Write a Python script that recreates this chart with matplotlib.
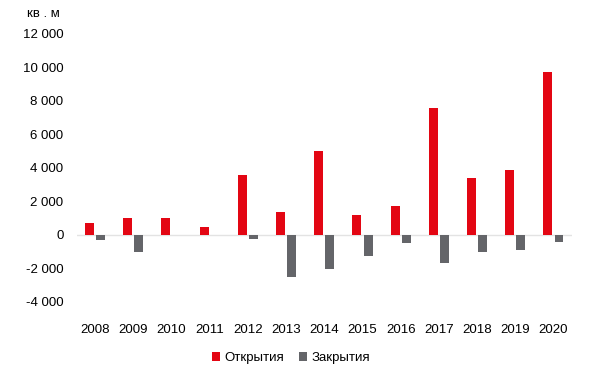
import matplotlib.pyplot as plt
import numpy as np

plt.rcParams['font.family'] = ['Liberation Sans', 'DejaVu Sans']

# data (sq. m)
years = ['2008', '2009', '2010', '2011', '2012', '2013', '2014',
         '2015', '2016', '2017', '2018', '2019', '2020']
openings = [700, 1000, 1000, 500, 3560, 1350, 5000,
            1180, 1720, 7580, 3380, 3880, 9700]
closings = [-300, -1000, 0, 0, -250, -2500, -2050,
            -1250, -500, -1700, -1000, -900, -400]
yticks = [-4000, -2000, 0, 2000, 4000, 6000, 8000, 10000, 12000]

red = '#E30613'
grey = '#646569'

fig = plt.figure(figsize=(6, 3.77), dpi=100)
ax = fig.add_axes([0.128, 0.199, 0.825, 0.711])

x = np.arange(len(years))
w = 0.235
ax.bar(x - 0.145, openings, w, color=red, label='Открытия')
ax.bar(x + 0.145, closings, w, color=grey, label='Закрытия')
ax.axhline(0, color='#e3e3e3', lw=1, zorder=0)

ax.set_xlim(-0.48, 12.48)
ax.set_ylim(-4000, 12000)
ax.set_yticks(yticks)
ax.set_yticklabels(['{:,}'.format(v).replace(',', ' ') for v in yticks])
ax.set_xticks(x)
ax.set_xticklabels(years)
ax.tick_params(axis='both', length=0, labelsize=9.5, colors='#000000')
ax.tick_params(axis='y', pad=9.6)
ax.tick_params(axis='x', pad=16)
for s in ax.spines.values():
    s.set_visible(False)

fig.text(0.045, 0.963, 'кв . м', fontsize=9.5, va='center', ha='left')

fig.legend(loc='center', bbox_to_anchor=(0.485, 0.05), ncol=2, frameon=False,
           fontsize=9.5, handlelength=0.6, handleheight=0.6, handletextpad=0.3,
           columnspacing=1.2)

fig.savefig('out.png', dpi=100)
